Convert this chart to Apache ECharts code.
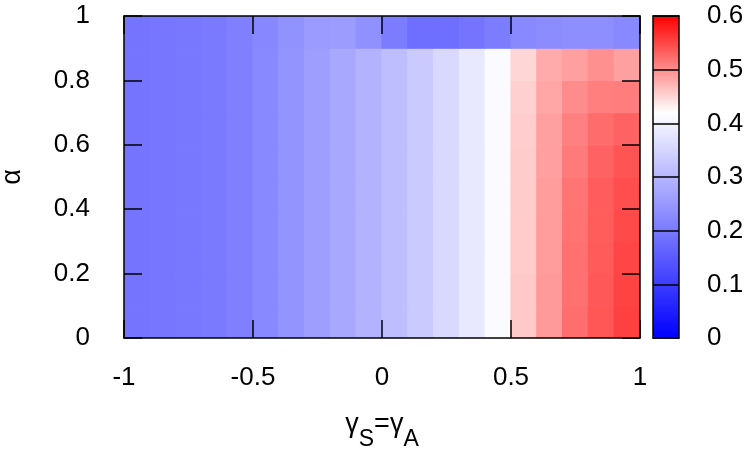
<!DOCTYPE html>
<html><head><meta charset="utf-8">
<script src="https://cdn.jsdelivr.net/npm/echarts@6/dist/echarts.min.js"></script>
<style>html,body{margin:0;padding:0;background:#fff}#c{width:750px;height:450px}</style>
</head><body><div id="c"></div>
<script>
// cell lower-left corners
const gammaStarts = [-1,-0.9,-0.8,-0.7,-0.6,-0.5,-0.4,-0.3,-0.2,-0.1,0,0.1,0.2,0.3,0.4,0.5,0.6,0.7,0.8,0.9];
const alphaStarts = [0,0.1,0.2,0.3,0.4,0.5,0.6,0.7,0.8,0.9];
const cellStep = 0.1;

// values per alpha row (bottom to top), one per gamma column
const row00 = [0.191,0.194,0.198,0.201,0.211,0.224,0.244,0.260,0.277,0.293,0.313,0.333,0.356,0.382,0.413,0.458,0.491,0.522,0.539,0.555];
const row01 = [0.191,0.194,0.198,0.201,0.211,0.224,0.244,0.260,0.277,0.293,0.313,0.333,0.356,0.382,0.413,0.458,0.491,0.521,0.538,0.553];
const row02 = [0.191,0.194,0.198,0.201,0.211,0.224,0.244,0.260,0.277,0.293,0.313,0.333,0.356,0.382,0.413,0.457,0.490,0.520,0.536,0.551];
const row03 = [0.191,0.194,0.198,0.201,0.211,0.224,0.244,0.260,0.277,0.293,0.313,0.333,0.356,0.382,0.413,0.457,0.490,0.519,0.535,0.548];
const row04 = [0.191,0.194,0.198,0.201,0.211,0.224,0.244,0.260,0.277,0.293,0.313,0.333,0.356,0.382,0.413,0.456,0.489,0.518,0.534,0.545];
const row05 = [0.191,0.194,0.198,0.201,0.211,0.224,0.244,0.260,0.277,0.293,0.313,0.333,0.356,0.382,0.413,0.456,0.488,0.514,0.531,0.541];
const row06 = [0.191,0.194,0.198,0.201,0.211,0.224,0.244,0.260,0.277,0.293,0.313,0.333,0.356,0.382,0.413,0.455,0.487,0.510,0.524,0.531];
const row07 = [0.191,0.194,0.198,0.201,0.211,0.224,0.244,0.260,0.277,0.293,0.313,0.333,0.356,0.382,0.413,0.453,0.483,0.501,0.511,0.512];
const row08 = [0.191,0.194,0.198,0.201,0.211,0.224,0.244,0.260,0.277,0.293,0.313,0.333,0.356,0.382,0.413,0.449,0.479,0.488,0.498,0.487];
const row09 = [0.191,0.194,0.198,0.201,0.211,0.222,0.240,0.254,0.257,0.236,0.204,0.181,0.181,0.191,0.204,0.224,0.231,0.234,0.234,0.224];
const rows = [row00,row01,row02,row03,row04,row05,row06,row07,row08,row09];

const cbRange = [0, 0.6];
const paletteStops = [[0,[0,0,255]],[0.7,[255,255,255]],[1,[255,0,0]]];

function paletteAt(t){
  for (let k=1;k<paletteStops.length;k++){
    const a=paletteStops[k-1], b=paletteStops[k];
    if (t<=b[0]+1e-9){
      const f=(t-a[0])/(b[0]-a[0]);
      const c=a[1].map((v,i)=>Math.round(v+(b[1][i]-v)*f));
      return 'rgb('+c.join(',')+')';
    }
  }
  return 'rgb(255,0,0)';
}
const paletteColors = [];
for (let i=0;i<=10;i++) paletteColors.push(paletteAt(i/10));

const data = [];
rows.forEach((r,j)=>r.forEach((v,i)=>data.push([gammaStarts[i], alphaStarts[j], v])));

const FONT = 'Liberation Sans, Arial, sans-serif';
const BLACK = '#000';
const lineW = 1.5;

function renderItem(params, api){
  const x0 = api.value(0), y0 = api.value(1);
  const p0 = api.coord([x0, y0 + cellStep]);
  const p1 = api.coord([x0 + cellStep, y0]);
  const col = api.visual('color');
  return {type:'rect', shape:{x:p0[0], y:p0[1], width:p1[0]-p0[0], height:p1[1]-p0[1]},
          style:{fill:col, stroke:col, lineWidth:1.2}};
}

const chart = echarts.init(document.getElementById('c'), null, {renderer:'canvas'});
const tickStyle = {inside:true, length:18, lineStyle:{color:BLACK, width:lineW}};
const lineStyle = {show:true, onZero:false, lineStyle:{color:BLACK, width:lineW}};
const labelStyle = {fontSize:26, color:BLACK, fontFamily:FONT};

chart.setOption({
  animation:false,
  backgroundColor:'#fff',
  grid:[
    {left:124, right:110, top:16, bottom:112, outerBoundsMode:'none', containLabel:false},
    {left:653, top:16, width:26, height:322, outerBoundsMode:'none', containLabel:false}
  ],
  xAxis:[
    {gridIndex:0, type:'value', min:-1, max:1, interval:0.5, position:'bottom', z:10,
     axisLine:lineStyle, axisTick:tickStyle, splitLine:{show:false},
     axisLabel:Object.assign({margin:27}, labelStyle),
     name:'{g|γ}{s|S}{g|=γ}{s|A}', nameLocation:'middle', nameGap:73,
     nameTextStyle:{rich:{
       g:{fontSize:27, fontFamily:FONT, color:BLACK, lineHeight:30, verticalAlign:'top'},
       s:{fontSize:23, fontFamily:FONT, color:BLACK, lineHeight:30, verticalAlign:'top', padding:[17,0,0,0]}
     }}},
    {gridIndex:0, type:'value', min:-1, max:1, interval:0.5, position:'top', z:10,
     axisLine:lineStyle, axisTick:tickStyle, splitLine:{show:false}, axisLabel:{show:false}},
    {gridIndex:1, type:'value', min:0, max:1, position:'bottom', z:10,
     axisLine:lineStyle, axisTick:{show:false}, splitLine:{show:false}, axisLabel:{show:false}},
    {gridIndex:1, type:'value', min:0, max:1, position:'top', z:10,
     axisLine:lineStyle, axisTick:{show:false}, splitLine:{show:false}, axisLabel:{show:false}}
  ],
  yAxis:[
    {gridIndex:0, type:'value', min:0, max:1, interval:0.2, position:'left', z:10,
     axisLine:lineStyle, axisTick:tickStyle, splitLine:{show:false},
     axisLabel:Object.assign({margin:34}, labelStyle),
     name:'α', nameLocation:'middle', nameGap:98,
     nameTextStyle:{fontSize:27, fontFamily:FONT, color:BLACK}},
    {gridIndex:0, type:'value', min:0, max:1, interval:0.2, position:'right', z:10,
     axisLine:lineStyle, axisTick:tickStyle, splitLine:{show:false}, axisLabel:{show:false}},
    {gridIndex:1, type:'value', min:cbRange[0], max:cbRange[1], interval:0.1, position:'right', z:10,
     axisLine:lineStyle, axisTick:{inside:true, length:26, lineStyle:{color:BLACK, width:lineW}},
     splitLine:{show:false}, axisLabel:Object.assign({margin:28}, labelStyle)},
    {gridIndex:1, type:'value', min:cbRange[0], max:cbRange[1], interval:0.1, position:'left', z:10,
     axisLine:lineStyle, axisTick:{show:false}, splitLine:{show:false}, axisLabel:{show:false}}
  ],
  visualMap:{
    type:'continuous', min:cbRange[0], max:cbRange[1], dimension:2, seriesIndex:0,
    inRange:{color:paletteColors}, show:true, calculable:false, text:null,
    orient:'vertical', left:653, top:16, itemWidth:26, itemHeight:322, padding:0,
    hoverLink:false
  },
  series:[{
    type:'custom', xAxisIndex:0, yAxisIndex:0, renderItem:renderItem,
    encode:{x:0, y:1}, data:data, clip:true
  }]
});
</script></body></html>
